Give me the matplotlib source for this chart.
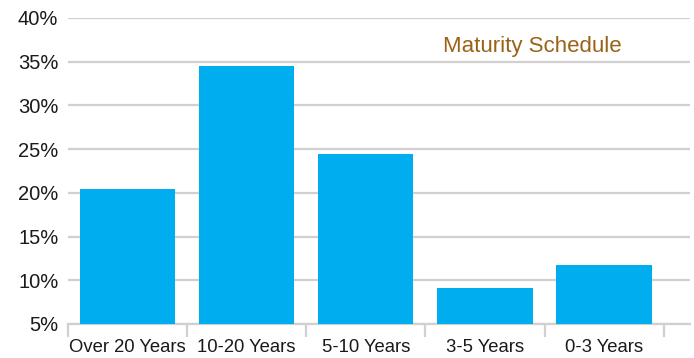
import matplotlib
matplotlib.use('Agg')
import matplotlib.pyplot as plt
import numpy as np
from matplotlib.ticker import FuncFormatter

categories = ['Over 20 Years', '10-20 Years', '5-10 Years', '3-5 Years', '0-3 Years']
values = [20.4, 34.5, 24.4, 9.1, 11.7]
yticks = [5, 10, 15, 20, 25, 30, 35, 40]

plt.rcParams['font.family'] = ['Liberation Sans', 'DejaVu Sans']

fig = plt.figure(figsize=(6.94, 3.58), dpi=100)
ax = fig.add_axes([0.098, 0.095, 0.896, 0.855])

x = np.arange(len(categories))
ax.bar(x, values, width=0.8, color='#00AEEF', zorder=3)

ax.set_ylim(5, 40)
ax.set_xlim(-0.5, 4.72)
ax.set_yticks(yticks)
ax.yaxis.set_major_formatter(FuncFormatter(lambda v, p: f'{v:.0f}%'))
ax.grid(axis='y', color='#D0D0D0', linewidth=1.6, zorder=0)

ax.set_xticks(x)
ax.set_xticklabels(categories)
ax.set_xticks(np.arange(-0.5, len(categories), 1.0), minor=True)
ax.tick_params(axis='x', which='major', length=0, pad=11, labelsize=13.3, labelcolor='#1a1a1a')
ax.tick_params(axis='x', which='minor', length=9, width=1.6, color='#D0D0D0')
ax.tick_params(axis='y', length=0, pad=7, labelsize=14.5, labelcolor='#1a1a1a')

for s in ['top', 'right', 'left']:
    ax.spines[s].set_visible(False)
ax.spines['bottom'].set_color('#D0D0D0')
ax.spines['bottom'].set_linewidth(1.6)

ax.text(0.746, 0.905, 'Maturity Schedule', transform=ax.transAxes, ha='center', va='center',
        fontsize=16, color='#9A6216')

fig.savefig('out.png', dpi=100)
